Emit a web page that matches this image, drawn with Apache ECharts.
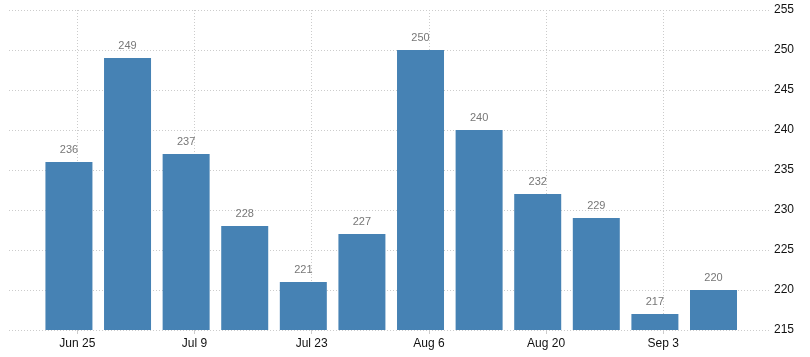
<!DOCTYPE html>
<html>
<head>
<meta charset="utf-8">
<script src="https://cdn.jsdelivr.net/npm/echarts@6/dist/echarts.min.js"></script>
<style>html,body{margin:0;padding:0;background:#fff;}#c{width:810px;height:357px;}</style>
</head>
<body>
<div id="c"></div>
<script>
const barDates = ['2018-06-24','2018-07-01','2018-07-08','2018-07-15','2018-07-22','2018-07-29','2018-08-05','2018-08-12','2018-08-19','2018-08-26','2018-09-02','2018-09-09'];
const values = [236, 249, 237, 228, 221, 227, 250, 240, 232, 229, 217, 220];
const tickDates = ['2018-06-25','2018-07-09','2018-07-23','2018-08-06','2018-08-20','2018-09-03'];
const tickLabels = ['Jun 25','Jul 9','Jul 23','Aug 6','Aug 20','Sep 3'];

const DAY = 86400000;
const origin = Date.parse(tickDates[0] + 'T00:00:00Z');
const toDay = d => Math.round((Date.parse(d + 'T00:00:00Z') - origin) / DAY);
const tickDays = tickDates.map(toDay);
const labelMap = {};
tickDays.forEach((d, i) => { labelMap[d] = tickLabels[i]; });

const chart = echarts.init(document.getElementById('c'));
chart.setOption({
  animation: false,
  grid: { left: 9, right: 40, top: 10, bottom: 27, containLabel: false },
  xAxis: {
    type: 'value',
    min: -8.16,
    max: 82.75,
    axisLine: { show: false },
    axisTick: { show: true, customValues: tickDays, length: 4, lineStyle: { color: '#cccccc' } },
    axisLabel: {
      customValues: tickDays,
      formatter: v => labelMap[Math.round(v)] || '',
      color: '#111', fontSize: 12, fontFamily: 'Arial', margin: 8
    },
    splitLine: { show: true, lineStyle: { color: '#cccccc', type: [1, 2] } }
  },
  yAxis: {
    type: 'value',
    position: 'right',
    min: 215, max: 255, interval: 5,
    axisLine: { show: false },
    axisTick: { show: false },
    axisLabel: { color: '#111', fontSize: 12, fontFamily: 'Arial', margin: 4 },
    splitLine: { show: true, lineStyle: { color: '#cccccc', type: [1, 2] } }
  },
  series: [{
    type: 'bar',
    data: barDates.map((d, i) => [toDay(d), values[i]]),
    barWidth: 47,
    itemStyle: { color: '#4682B4' },
    label: { show: true, position: 'top', distance: 7, color: '#777', fontSize: 11, fontFamily: 'Arial' }
  }]
});
</script>
</body>
</html>
